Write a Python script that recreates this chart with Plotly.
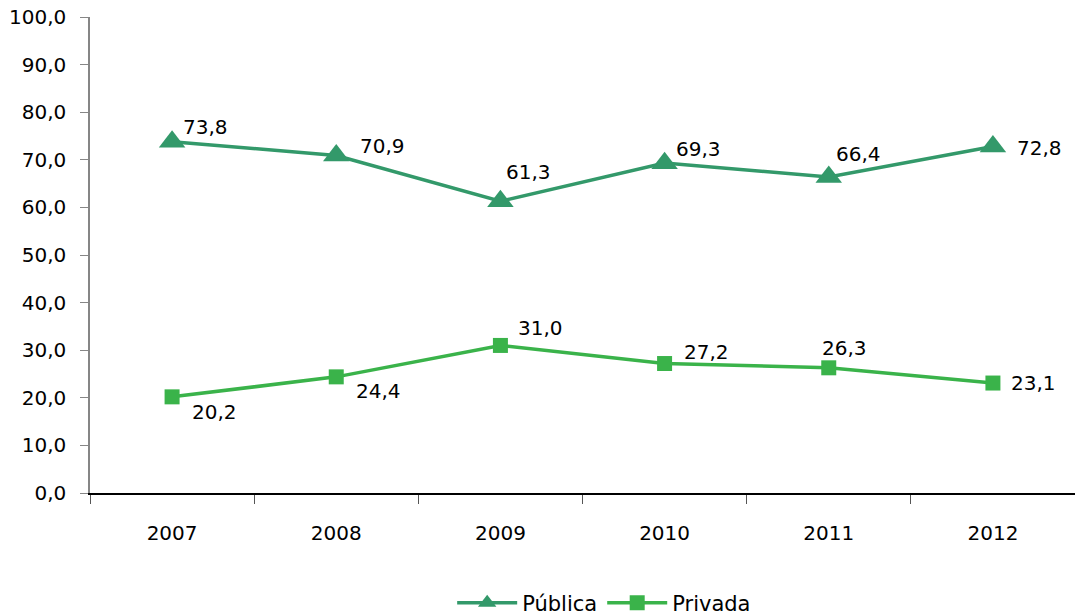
import plotly.graph_objects as go

years = ["2007", "2008", "2009", "2010", "2011", "2012"]
publica = [73.8, 70.9, 61.3, 69.3, 66.4, 72.8]
privada = [20.2, 24.4, 31.0, 27.2, 26.3, 23.1]

# label offsets (pixels) - styling only
pub_dx = [33, 46, 28, 34, 30, 47]
pub_dy = [15, 10, 29, 14, 23, -2]
pri_dx = [42, 42, 40, 42, 16, 41]
pri_dy = [-15, -14, 17, 12, 20, 0]

C_PUB = "#33996A"
C_PRI = "#3AB34A"
FONT = "DejaVu Sans"
FS = 20

def fmt(v):
    return f"{v:.1f}".replace(".", ",")

fig = go.Figure()
fig.add_trace(go.Scatter(
    x=years, y=publica, name="Pública", mode="lines+markers",
    line=dict(color=C_PUB, width=3.5),
    marker=dict(symbol="triangle-up", size=23, color=C_PUB),
))
fig.add_trace(go.Scatter(
    x=years, y=privada, name="Privada", mode="lines+markers",
    line=dict(color=C_PRI, width=3.5),
    marker=dict(symbol="square", size=15, color=C_PRI),
))

anns = []
for i, yv in enumerate(publica):
    anns.append(dict(x=i, y=yv, text=fmt(yv), showarrow=False,
                     xshift=pub_dx[i], yshift=pub_dy[i],
                     font=dict(family=FONT, size=FS, color="#000")))
for i, yv in enumerate(privada):
    anns.append(dict(x=i, y=yv, text=fmt(yv), showarrow=False,
                     xshift=pri_dx[i], yshift=pri_dy[i],
                     font=dict(family=FONT, size=FS, color="#000")))

fig.update_layout(
    width=1075, height=616,
    margin=dict(l=90, r=0, t=17, b=123),
    paper_bgcolor="white", plot_bgcolor="white",
    separators=",.",
    font=dict(family=FONT, size=FS, color="#000"),
    annotations=anns,
    showlegend=True,
    legend=dict(orientation="h", xref="paper", x=0.522, xanchor="center",
                yref="container", y=1 - 603 / 616, yanchor="middle",
                font=dict(family=FONT, size=21), itemwidth=60,
                tracegroupgap=0),
    xaxis=dict(
        type="category", range=[-0.5, 5.5], showgrid=False, showline=True,
        linecolor="#000", linewidth=1.5, automargin=False,
        ticks="outside", tickson="boundaries", ticklen=9, tickcolor="#555",
        tickfont=dict(family=FONT, size=FS), ticklabelstandoff=21, tickangle=0,
    ),
    yaxis=dict(
        range=[0, 100], dtick=10, tickformat=".1f", showgrid=False, zeroline=False,
        showline=True, linecolor="#868686", linewidth=1.5, automargin=False,
        ticks="outside", ticklen=8, tickcolor="#868686",
        tickfont=dict(family=FONT, size=FS), ticklabelstandoff=10,
    ),
)

fig.write_html("out.html", config={"displayModeBar": False},
               post_script="document.body.style.margin='0px';document.body.style.overflow='hidden';")
